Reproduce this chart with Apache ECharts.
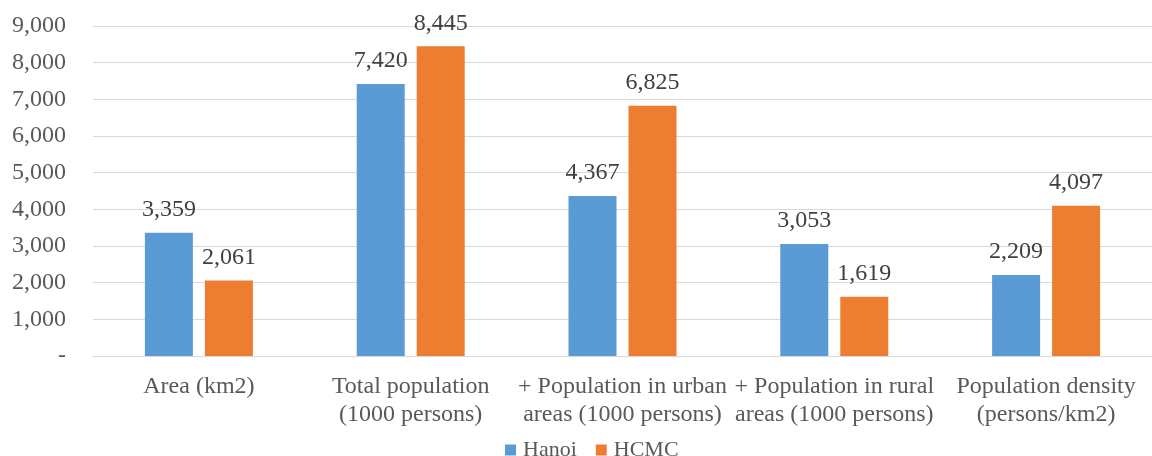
<!DOCTYPE html>
<html>
<head>
<meta charset="utf-8">
<script src="https://cdn.jsdelivr.net/npm/echarts@6/dist/echarts.min.js"></script>
<style>
  html, body { margin: 0; padding: 0; background: #fff; }
  #chart { width: 1152px; height: 456px; }
</style>
</head>
<body>
<div id="chart"></div>
<script>
// Hanoi vs HCMC: area, population and density
const categories = [
  'Area (km2)',
  'Total population\n(1000 persons)',
  '+ Population in urban\nareas (1000 persons)',
  '+ Population in rural\nareas (1000 persons)',
  'Population density\n(persons/km2)'
];
const hanoi = [3359, 7420, 4367, 3053, 2209];
const hcmc = [2061, 8445, 6825, 1619, 4097];
const yTicks = { min: 0, max: 9000, interval: 1000 };

const serif = '"Liberation Serif", "Times New Roman", serif';
const fmt = v => v === 0 ? '-' : v.toLocaleString('en-US');

const valueLabel = {
  show: true,
  position: 'top',
  distance: 11,
  fontFamily: serif,
  fontSize: 24,
  color: '#404040',
  formatter: p => fmt(p.value)
};

const chart = echarts.init(document.getElementById('chart'));
chart.setOption({
  animation: false,
  textStyle: { fontFamily: serif },
  grid: { left: 93, top: 26, width: 1070, height: 330, containLabel: false },
  legend: {
    top: 434,
    left: 500,
    itemWidth: 11,
    itemHeight: 11,
    itemGap: 19,
    icon: 'rect',
    textStyle: { fontFamily: serif, fontSize: 22, color: '#595959', padding: [0, 0, 0, 2] },
    data: ['Hanoi', 'HCMC']
  },
  xAxis: {
    type: 'category',
    data: categories,
    axisTick: { show: false },
    axisLine: { lineStyle: { color: '#d9d9d9', width: 1 } },
    axisLabel: {
      interval: 0,
      margin: 17,
      fontFamily: serif,
      fontSize: 24,
      lineHeight: 28,
      color: '#595959'
    }
  },
  yAxis: {
    type: 'value',
    min: yTicks.min,
    max: yTicks.max,
    interval: yTicks.interval,
    axisLine: { show: false },
    axisTick: { show: false },
    splitLine: { lineStyle: { color: '#d9d9d9', width: 1 } },
    axisLabel: {
      margin: 27,
      fontFamily: serif,
      fontSize: 24,
      color: '#595959',
      formatter: fmt
    }
  },
  series: [
    {
      name: 'Hanoi',
      type: 'bar',
      data: hanoi,
      barWidth: 48,
      barGap: '25%',
      itemStyle: { color: '#5B9BD5' },
      label: valueLabel
    },
    {
      name: 'HCMC',
      type: 'bar',
      data: hcmc,
      barWidth: 48,
      barGap: '25%',
      itemStyle: { color: '#ED7D31' },
      label: valueLabel
    }
  ]
});
</script>
</body>
</html>
